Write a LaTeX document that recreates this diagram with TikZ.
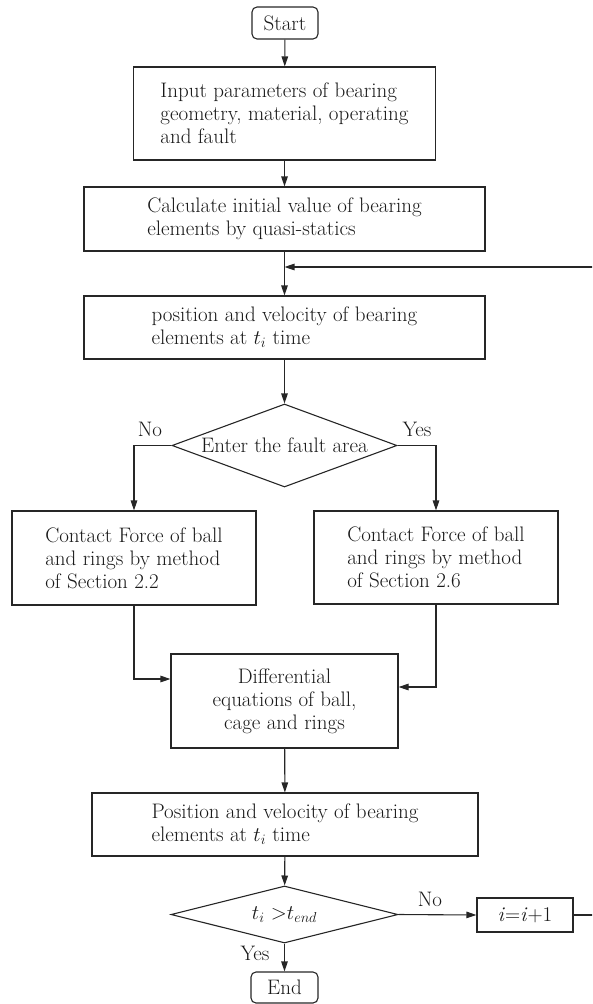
\documentclass[tikz,border=0pt]{standalone}
\usetikzlibrary{arrows.meta,shapes.geometric}
\begin{document}
\begin{tikzpicture}[x=1pt,y=-1pt,
  every node/.style={font=\fontsize{21}{23}\selectfont, text=black!90},
  box/.style={draw=black!85, line width=1.1pt, inner sep=0pt, align=left},
  cbox/.style={draw=black!85, line width=1.1pt, inner sep=0pt, align=center},
  term/.style={draw=black!85, line width=1.1pt, inner sep=0pt, rounded corners=5pt},
  dec/.style={draw=black!85, line width=1.1pt, shape=diamond, inner sep=0pt, aspect=2.7},
  lbl/.style={inner sep=0pt},
  conn/.style={draw=black!85, line width=1.1pt},
  arr/.style={conn, -{Triangle[length=10pt,width=6.5pt]}}]
\clip (0,0) rectangle (592,1004);
\node[term, minimum width=66pt, minimum height=32pt] (start) at (285,23) {Start};
\node[box, minimum width=302pt, minimum height=93pt] (b1) at (284.5,113.5) {Input parameters of bearing\\geometry, material, operating\\and fault};
\node[box, minimum width=401pt, minimum height=64pt] (b2) at (284.5,219) {Calculate initial value of bearing\\elements by quasi-statics};
\node[box, minimum width=401pt, minimum height=63pt] (b3) at (284.5,327.5) {position and velocity of bearing\\elements at $t_i$ time};
\node[dec, minimum width=225pt, minimum height=83pt] (d1) at (284.5,445.5) {Enter the fault area};
\node[box, minimum width=244pt, minimum height=94pt] (lb) at (134,558) {Contact Force of ball\\and rings by method\\of Section 2.2};
\node[box, minimum width=244pt, minimum height=93pt] (rb) at (436,557.5) {Contact Force of ball\\and rings by method\\of Section 2.6};
\node[cbox, minimum width=227pt, minimum height=94pt] (diff) at (284.5,701) {Differential\\equations of ball,\\cage and rings};
\node[box, minimum width=386pt, minimum height=63pt] (b5) at (285,824.5) {Position and velocity of bearing\\elements at $t_i$ time};
\node[dec, minimum width=227pt, minimum height=57pt] (d2) at (284.5,914.5) {$t_i$ >$t_{end}$};
\node[cbox, minimum width=96pt, minimum height=34pt] (inc) at (525,915) {\textit{i}=\textit{i}+1};
\node[term, minimum width=67pt, minimum height=31pt] (end) at (284.5,987.5) {End};
\node[lbl] (no1) at (150,429) {No};
\node[lbl] (yes1) at (417,429) {Yes};
\node[lbl] (no2) at (430,899) {No};
\node[lbl] (yes2) at (255,953) {Yes};
\coordinate (join) at (284.5,267);
\coordinate (rtop) at (594,267);
\coordinate (rbot) at (594,915);
\draw[arr] (start) -- (b1);
\draw[arr] (b1) -- (b2);
\draw[arr] (b2) -- (b3);
\draw[arr] (rbot -| inc.east) -- (rbot) -- (rtop) -- (join);
\draw[arr] (b3) -- (d1);
\draw[arr] (d1.west) -| (lb.north);
\draw[arr] (d1.east) -| (rb.north);
\draw[arr] (lb.south) |- (diff.west |- 0,679);
\draw[arr] (rb.south) |- (diff.east |- 0,687);
\draw[arr] (diff) -- (b5);
\draw[arr] (b5) -- (d2);
\draw[arr] (d2.east) -- (inc.west);
\draw[arr] (d2.south) -- (end.north);
\end{tikzpicture}
\end{document}
